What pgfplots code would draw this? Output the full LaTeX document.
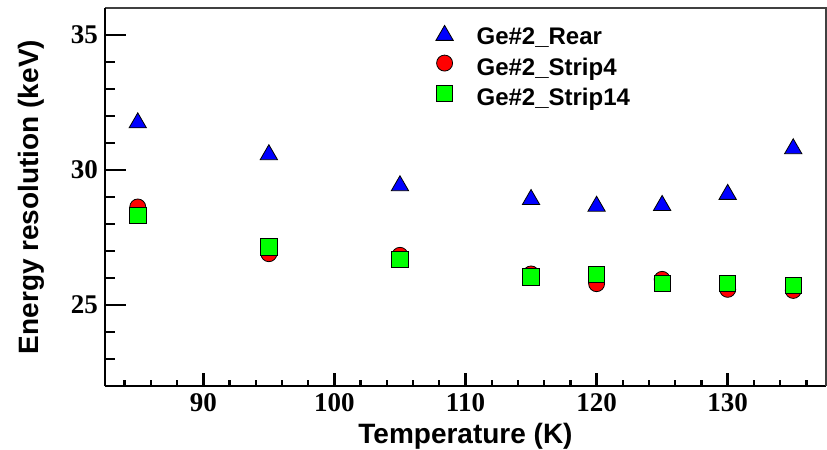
\documentclass[border=0pt]{standalone}
\usepackage{fontspec}
\setmainfont{Liberation Serif}
\newfontfamily\lsans{Liberation Sans}
\usepackage{pgfplots}
\pgfplotsset{compat=1.18}
\definecolor{rblue}{RGB}{0,0,255}
\definecolor{rred}{RGB}{255,0,0}
\definecolor{rgreen}{RGB}{0,255,0}
\begin{document}
\begin{tikzpicture}
\begin{axis}[
  name=main,
  scale only axis, width=360.5pt, height=189pt,
  xmin=82.5, xmax=137.5, ymin=22, ymax=36,
  axis x line*=bottom, axis y line*=left,
  axis line style={-, line width=1.2pt, black},
  xtick={90,100,...,130}, minor xtick={84,86,...,136},
  ytick=\empty,
  tick align=inside,
  major tick length=6.5pt, minor tick length=3pt,
  tick style={line width=1.2pt, black},
  /pgf/number format/assume math mode=true,
  xticklabel style={font=\bfseries\fontsize{13.5}{16}\selectfont},
  xlabel={Temperature (K)},
  xlabel style={font=\lsans\bfseries\fontsize{14}{16}\selectfont, at={(axis description cs:0.5,-0.1323)}, anchor=center},
  clip=false,
  legend cell align=left,
  legend image code/.code={\draw[#1] plot coordinates {(0pt,3pt)}; \path[draw=none] (0pt,0pt) -- (14pt,0pt);},
  legend style={draw=none, fill=none, inner sep=0pt, outer sep=0pt,
    at={(axis description cs:0.4590,0.954)}, anchor=north west,
    font=\lsans\bfseries\fontsize{12}{14}\selectfont,
    row sep=2.6pt,
    nodes={inner ysep=0pt, text height=8.5pt, text depth=2.5pt}},
]
\addplot[only marks, mark=triangle*, mark size=5pt, mark options={fill=rblue, draw=none, yshift=-1.25pt}]
  coordinates {(85,31.84) (95,30.66) (105,29.51) (115,29.0) (120,28.75) (125,28.78) (130,29.19) (135,30.88)};
\addlegendentry{Ge\#2\_Rear}
\addplot[only marks, mark=*, mark size=4pt, mark options={fill=rred, draw=none}]
  coordinates {(85,28.63) (95,26.90) (105,26.84) (115,26.15) (120,25.79) (125,25.95) (130,25.58) (135,25.54)};
\addlegendentry{Ge\#2\_Strip4}
\addplot[only marks, mark=square*, mark size=4.1pt, mark options={fill=rgreen, draw=none}]
  coordinates {(85,28.32) (95,27.15) (105,26.70) (115,26.04) (120,26.14) (125,25.81) (130,25.81) (135,25.72)};
\addlegendentry{Ge\#2\_Strip14}
\draw[line width=0.6pt, black!75] (rel axis cs:0,1) -- (rel axis cs:1,1) -- (rel axis cs:1,0);
\end{axis}
\begin{axis}[
  scale only axis, width=360.5pt, height=189pt,
  xmin=82.5, xmax=137.5, ymin=22, ymax=36,
  axis x line=none, axis y line*=left,
  axis line style={-, line width=1.2pt, black},
  ytick={25,30,35}, minor ytick={23,24,...,35},
  tick align=inside,
  major tick length=10.5pt, minor tick length=5pt,
  tick style={line width=1.2pt, black},
  /pgf/number format/assume math mode=true,
  yticklabel style={font=\bfseries\fontsize{13.5}{16}\selectfont},
  ylabel={Energy resolution (keV)},
  ylabel style={font=\lsans\bfseries\fontsize{14}{16}\selectfont, at={(axis description cs:-0.1026,0.5)}, anchor=center},
]
\end{axis}
\pgfresetboundingbox
\useasboundingbox ([shift={(-52.5pt,-31.5pt)}]main.south west) rectangle ([shift={(0.5pt,4pt)}]main.north east);
\end{tikzpicture}
\end{document}
